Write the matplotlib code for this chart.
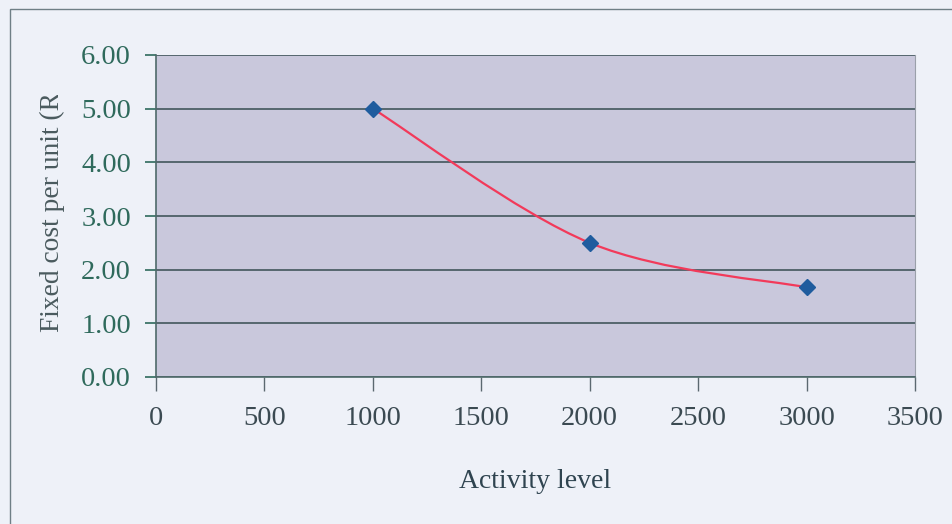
import matplotlib.pyplot as plt
import numpy as np
from matplotlib.path import Path
from matplotlib.patches import PathPatch, Rectangle
from matplotlib.transforms import Bbox

plt.rcParams['font.family'] = ['Liberation Serif', 'DejaVu Serif']

activity = [1000, 2000, 3000]
fixed_cost = [5.00, 2.50, 1.67]
x_ticks = [0, 500, 1000, 1500, 2000, 2500, 3000, 3500]
y_ticks = [0, 1, 2, 3, 4, 5, 6]

fig = plt.figure(figsize=(9.52, 5.24), dpi=100)
fig.patch.set_facecolor('#eef1f8')

# outer chart border
fig.patches.append(Rectangle((10 / 952, -0.05), 1.2, 1 - 9 / 524 + 0.05,
                             transform=fig.transFigure, fill=False,
                             edgecolor='#6f7f86', linewidth=1.0))

ax = fig.add_axes([156 / 952, 1 - 377 / 524, (915 - 156) / 952, (377 - 55) / 524])
ax.set_facecolor('#c9c8dc')
ax.set_xlim(0, 3500)
ax.set_ylim(0, 6)
ax.set_xticks(x_ticks)
ax.set_yticks(y_ticks)
ax.set_yticklabels([f'{v:.2f}' for v in y_ticks])
ax.tick_params(axis='y', colors='#2f6a5c', labelsize=20.5, length=8, width=1.2, pad=10)
ax.tick_params(axis='x', colors='#5b6870', labelcolor='#3b4a52', labelsize=20.5,
               length=10, width=1.0, pad=11)
ax.grid(axis='y', color='#55676f', linewidth=1.4)
ax.set_axisbelow(True)
for side in ['left', 'bottom']:
    ax.spines[side].set_color('#4f6a6a')
    ax.spines[side].set_linewidth(1.2)
ax.spines['top'].set_visible(False)
ax.spines['right'].set_color('#9aa0aa')

# smoothed line through the points (cubic Bezier segments)
pts = np.column_stack([activity, fixed_cost])
ext = np.vstack([pts[0], pts, pts[-1]])
verts = [tuple(pts[0])]
codes = [Path.MOVETO]
for i in range(len(pts) - 1):
    p0, p1, p2, p3 = ext[i], ext[i + 1], ext[i + 2], ext[i + 3]
    c1 = p1 + (p2 - p0) / 6
    c2 = p2 - (p3 - p1) / 6
    verts += [tuple(c1), tuple(c2), tuple(p2)]
    codes += [Path.CURVE4] * 3
ax.add_patch(PathPatch(Path(verts, codes), fill=False, edgecolor='#f23a5a',
                       linewidth=1.6, zorder=3))
ax.plot(activity, fixed_cost, linestyle='none', marker='D', markersize=8,
        color='#1f5c9e', zorder=4)

ax.set_xlabel('Activity level', fontsize=20, color='#2f4450', labelpad=27)

# y label, cut off near the top of the chart area
yl = fig.text(52 / 952, 1 - 332 / 524, 'Fixed cost per unit (R)',
              rotation=90, ha='center', va='bottom', fontsize=19.8, color='#4a5a5e')
yl.set_clip_box(Bbox([[0, 0], [200, 524 - 95]]))
yl.set_clip_on(True)

plt.savefig('out.png', dpi=100, facecolor=fig.get_facecolor())
